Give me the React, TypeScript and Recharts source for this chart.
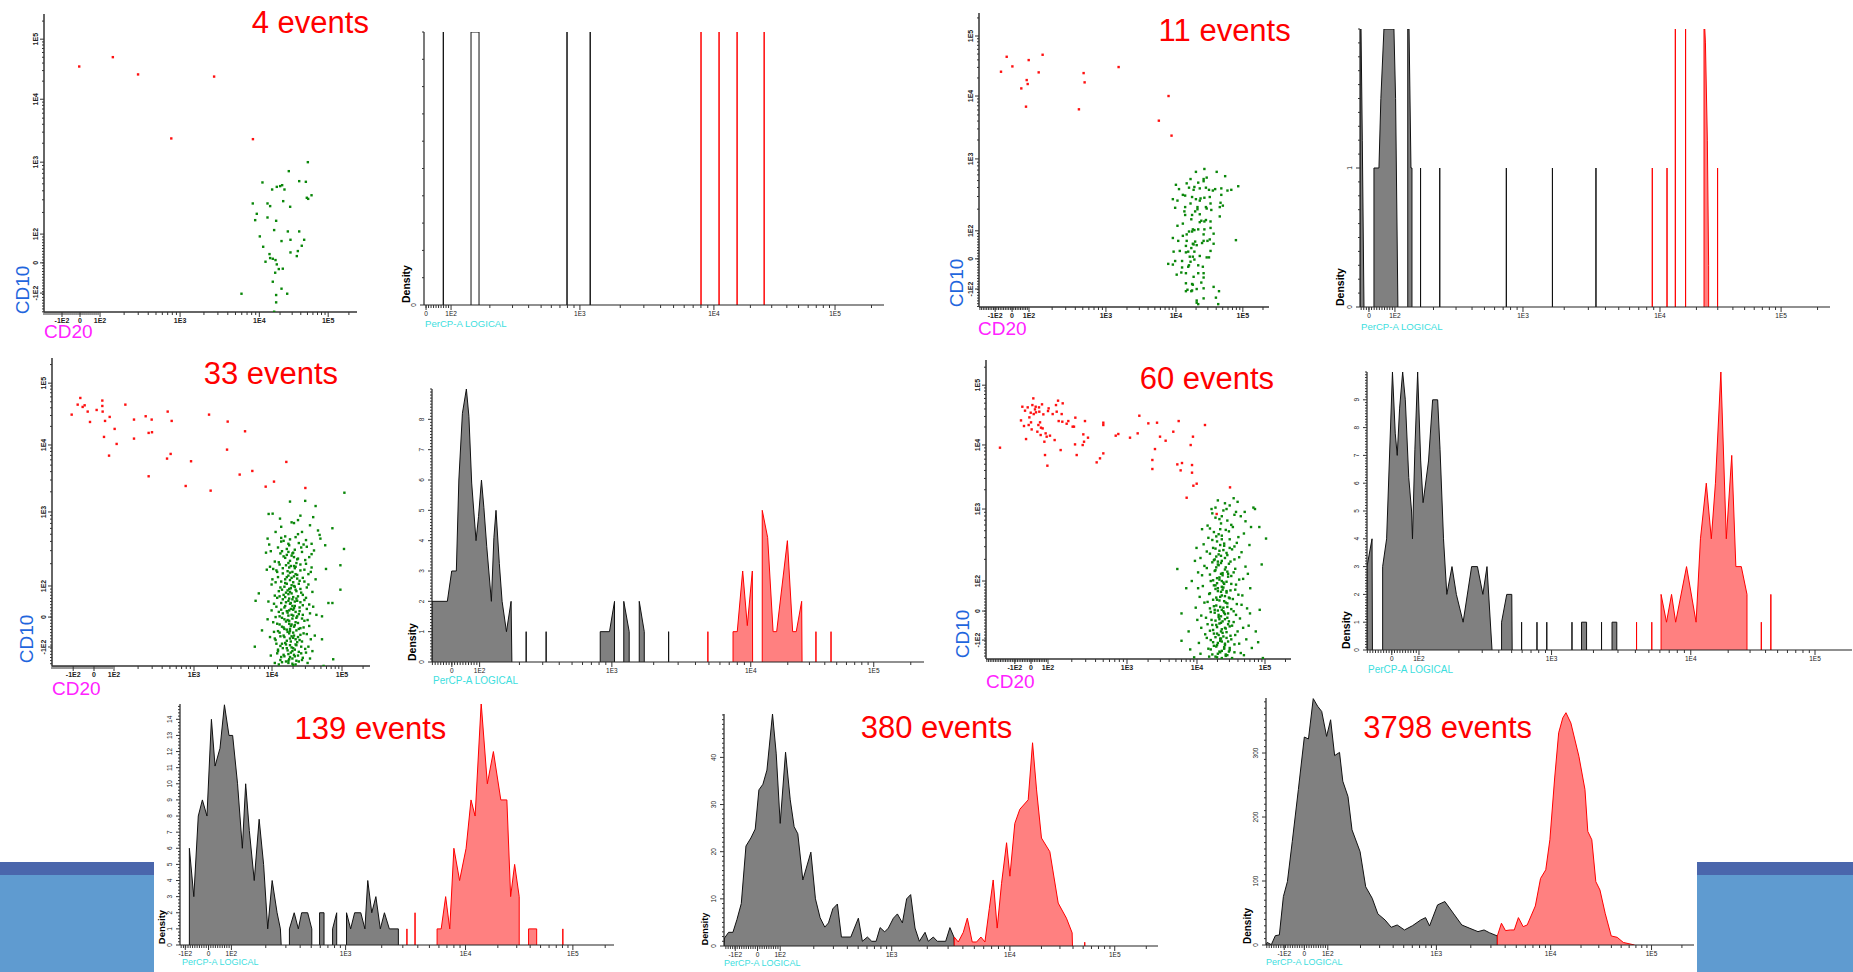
import React from 'react';
import { ComposedChart, Area, ScatterChart, Scatter, XAxis, YAxis } from 'recharts';

type P = [number, number];
type Row = { x: number; y: number | null };

const FONT = '"Liberation Sans", Arial, Helvetica, sans-serif';
const LABELS6 = ['-1E2', '0', '1E2', '1E3', '1E4', '1E5'];
const LABELS5 = ['0', '1E2', '1E3', '1E4', '1E5'];

// axis positions are logicle display units: 1E2 = 2, 1E3 = 3 ...

// ---------------- 4 events ----------------
const scatter4TicksX = [1.525, 1.75, 2, 3, 3.99, 4.85];
const scatter4TicksY = [1.18, 1.6, 2, 3, 3.875, 4.71];
const scatter4Red: P[] = [[1.74, 4.33], [2.16, 4.46], [2.475, 4.22], [3.425, 4.19], [2.89, 3.33], [3.91, 3.32]];
const scatter4Green: P[] = [
  [4.596, 3.0], [4.358, 2.875], [4.029, 2.718], [4.488, 2.736], [4.571, 2.727], [4.15, 2.62], [4.208, 2.657],
  [4.275, 2.68], [4.25, 2.667], [4.304, 2.62], [4.642, 2.54], [4.583, 2.505], [4.6, 2.49], [3.908, 2.426],
  [4.092, 2.426], [4.288, 2.458], [4.125, 2.389], [4.375, 2.38], [3.958, 2.282], [3.938, 2.194], [4.092, 2.231],
  [4.2, 2.185], [4.175, 2.056], [4.346, 2.037], [4.488, 2.037], [3.996, 1.968], [4.267, 1.903], [4.379, 1.921],
  [4.55, 1.921], [4.52, 1.838], [4.038, 1.824], [4.471, 1.764], [4.379, 1.745], [4.458, 1.694], [4.117, 1.722],
  [4.125, 1.667], [4.158, 1.657], [4.192, 1.639], [4.067, 1.616], [4.208, 1.579], [4.233, 1.514], [4.283, 1.519],
  [4.188, 1.463], [4.158, 1.338], [4.267, 1.241], [4.338, 1.171], [3.767, 1.171], [4.2, 1.153], [4.2, 1.051], [4.175, 0.921],
];
const hist4Ticks = [1.806, 2, 3, 4.04, 4.98];
const hist4GrayPolys: P[][] = [[[2.155, 0], [2.155, 1], [2.217, 1], [2.217, 0]]];
const hist4GraySpikes: P[] = [[1.94, 1], [2.9, 1], [3.08, 1]];
const hist4RedPolys: P[][] = [];
const hist4RedSpikes: P[] = [[3.94, 1], [4.08, 1], [4.22, 1], [4.43, 1]];

// ---------------- 11 events ----------------
const scatter11TicksX = [1.56, 1.78, 2, 3, 3.91, 4.78];
const scatter11TicksY = [1.19, 1.61, 2, 3, 3.875, 4.71];
const scatter11Red: P[] = [
  [1.636, 4.213], [1.71, 4.421], [1.784, 4.287], [1.996, 4.375], [2.177, 4.449], [2.126, 4.204], [1.9, 3.981],
  [1.97, 4.097], [1.983, 4.042], [1.961, 3.727], [2.649, 3.69], [2.71, 4.194], [2.723, 4.065], [3.165, 4.278],
  [3.814, 3.875], [3.688, 3.532], [3.853, 3.324],
];
const scatter11Green: P[] = [
  [4.28, 2.86], [4.17, 2.82], [4.55, 2.76], [4.31, 2.74], [4.1, 2.72], [4.05, 2.66], [3.91, 2.64], [4.2, 2.67],
  [4.27, 2.69], [4.15, 2.61], [4.22, 2.59], [3.95, 2.58], [4.08, 2.6], [4.3, 2.6], [4.34, 2.57], [4.42, 2.58],
  [4.5, 2.59], [4.58, 2.56], [4.72, 2.62], [4.63, 2.57], [4.14, 2.57], [4.03, 2.49], [4.12, 2.47], [4.0, 2.5],
  [4.23, 2.45], [4.28, 2.46], [3.93, 2.42], [4.36, 2.38], [4.48, 2.33], [4.52, 2.35], [3.9, 2.32], [4.03, 2.33],
  [4.19, 2.33], [4.19, 2.3], [4.3, 2.33], [4.31, 2.31], [4.02, 2.27], [4.16, 2.27], [4.12, 2.22], [4.22, 2.23],
  [4.37, 2.29], [4.48, 2.2], [4.03, 2.22], [3.93, 2.07], [4.11, 2.16], [4.28, 2.13], [4.22, 2.12], [4.36, 2.13],
  [4.08, 1.99], [4.13, 2.02], [4.15, 2.01], [4.2, 2.02], [4.28, 2.02], [4.36, 2.04], [4.0, 1.93], [4.27, 1.95],
  [4.12, 1.99], [4.05, 1.86], [4.16, 1.85], [4.27, 1.86], [4.35, 1.88], [4.32, 1.86], [4.13, 1.82], [4.04, 1.79],
  [4.18, 1.8], [4.11, 1.76], [4.25, 1.83], [4.4, 1.82], [4.69, 1.87], [3.88, 1.71], [3.96, 1.72], [4.07, 1.71],
  [4.15, 1.71], [4.36, 1.72], [4.13, 1.64], [4.31, 1.63], [4.34, 1.63], [3.9, 1.58], [3.99, 1.58], [4.15, 1.6],
  [4.1, 1.57], [3.81, 1.54], [4.08, 1.52], [4.07, 1.5], [3.99, 1.49], [3.98, 1.42], [3.92, 1.39], [4.04, 1.41],
  [4.2, 1.41], [4.27, 1.41], [4.14, 1.36], [4.04, 1.27], [4.12, 1.26], [4.27, 1.35], [4.13, 1.25], [4.27, 1.2],
  [4.4, 1.22], [4.47, 1.16], [4.12, 1.17], [4.11, 1.16], [4.18, 1.19], [3.87, 1.53], [4.05, 1.95], [4.0, 2.1],
  [4.22, 2.42], [4.1, 2.38], [4.35, 2.47], [4.39, 2.56], [3.87, 2.44], [4.17, 2.44], [4.3, 2.15], [4.22, 1.65],
  [3.94, 1.86], [4.2, 1.52], [4.04, 1.7], [3.87, 1.9], [4.4, 1.96], [4.14, 1.81], [4.09, 1.64], [4.24, 1.28],
  [4.04, 1.16], [4.26, 1.5], [4.49, 2.39], [4.44, 2.82], [4.27, 2.72], [4.5, 2.5], [4.24, 2.14], [4.06, 1.18],
  [4.18, 1.03], [4.18, 1.0], [4.27, 1.06], [4.43, 1.07], [4.46, 0.98], [4.2, 0.98],
];
const hist11Ticks = [1.797, 2, 3, 4.07, 5.016];
const hist11GrayPolys: P[][] = [
  [[1.727, 0], [1.727, 2], [1.735, 2], [1.745, 1.2], [1.758, 0]],
  [[1.836, 0], [1.836, 1], [1.875, 1], [1.89, 1.5], [1.914, 2], [1.992, 2], [2.005, 1.5], [2.023, 0]],
  [[2.1, 0], [2.1, 2], [2.11, 2], [2.125, 1], [2.133, 1], [2.133, 0]],
];
const hist11GraySpikes: P[] = [[2.2, 1], [2.35, 1], [2.87, 1], [3.23, 1], [3.57, 1]];
const hist11RedPolys: P[][] = [[[4.414, 0], [4.414, 2], [4.42, 2], [4.425, 1.9], [4.44, 1.2], [4.45, 0.3], [4.45, 0]]];
const hist11RedSpikes: P[] = [[4.01, 1], [4.125, 1], [4.19, 2], [4.27, 2], [4.52, 1]];

// ---------------- 33 events ----------------
const scatter33TicksX = [1.49, 1.75, 2, 3, 3.975, 4.85];
const scatter33TicksY = [1.176, 1.58, 2, 3, 3.905, 4.74];
const scatter33Red: P[] = [
  [1.471, 4.315], [1.546, 4.45], [1.579, 4.54], [1.608, 4.419], [1.633, 4.441], [1.671, 4.356], [1.7, 4.216],
  [1.783, 4.378], [1.854, 4.505], [1.854, 4.432], [1.858, 4.356], [1.875, 4.014], [1.888, 4.23], [1.938, 3.761],
  [1.946, 4.284], [2.008, 4.122], [2.033, 3.919], [2.142, 4.45], [2.25, 4.248], [2.25, 3.991], [2.396, 4.293],
  [2.433, 4.068], [2.433, 3.482], [2.471, 4.248], [2.475, 4.077], [2.671, 4.356], [2.663, 3.721], [2.708, 3.784],
  [2.721, 4.23], [2.896, 3.351], [2.963, 3.685], [3.188, 4.315], [3.208, 3.288], [3.413, 3.842], [3.421, 4.221],
  [3.571, 3.505], [3.638, 4.09], [3.729, 3.554], [3.896, 3.342], [4.0, 3.41], [4.154, 3.676], [4.392, 3.324],
];
const scatter33Green: P[] = [
  [3.933, 2.973], [3.983, 2.977], [4.2, 3.14], [4.39, 3.15], [4.52, 3.08], [4.33, 2.95], [4.22, 2.86], [4.25, 2.85],
  [4.49, 2.93], [4.3, 2.89], [4.35, 2.73], [4.45, 2.82], [4.55, 2.75], [4.88, 3.26], [4.73, 2.78], [4.875, 2.5],
  [4.64, 2.55], [4.57, 2.69], [4.58, 2.64], [4.65, 2.23], [4.83, 2.28], [4.83, 1.95], [4.68, 1.77], [4.73, 1.77],
  [4.6, 1.59], [4.6, 1.28], [4.53, 1.61], [4.74, 1.01], [4.62, 0.92], [3.77, 1.8], [3.76, 1.18], [3.81, 1.9],
  [3.85, 1.4], [3.9, 2.45], [3.91, 2.22], [3.92, 2.64], [4.075, 2.91], [4.09, 2.8], [4.02, 2.73],
  [4.12, 2.61], [4.31, 2.58], [4.05, 2.52], [4.19, 2.55], [4.26, 2.49], [4.41, 2.53], [4.08, 2.44], [4.35, 2.46],
  [4.22, 2.41], [4.14, 2.38], [4.29, 2.36], [4.44, 2.39], [4.01, 2.33], [4.18, 2.31], [4.33, 2.29], [4.25, 2.27],
  [4.11, 2.24], [4.38, 2.22], [4.47, 2.25], [4.04, 2.19], [4.2, 2.18], [4.29, 2.15], [4.16, 2.12], [4.36, 2.11],
  [3.98, 2.09], [4.09, 2.06], [4.24, 2.05], [4.31, 2.03], [4.43, 2.02], [4.13, 1.99], [4.21, 1.97], [4.27, 1.95],
  [4.06, 1.93], [4.34, 1.91], [4.18, 1.89], [4.01, 1.87], [4.24, 1.85], [4.4, 1.84], [4.11, 1.82], [4.29, 1.8],
  [4.15, 1.78], [4.2, 1.76], [4.36, 1.74], [4.03, 1.72], [4.25, 1.7], [4.09, 1.68], [4.32, 1.66], [4.17, 1.64],
  [4.45, 1.63], [4.22, 1.61], [4.07, 1.59], [4.28, 1.57], [4.13, 1.55], [4.38, 1.53], [3.99, 1.51], [4.19, 1.49],
  [4.26, 1.47], [4.1, 1.45], [4.33, 1.43], [4.16, 1.41], [4.05, 1.39], [4.24, 1.37], [4.41, 1.35], [4.12, 1.33],
  [4.3, 1.31], [4.2, 1.29], [4.02, 1.27], [4.35, 1.25], [4.14, 1.23], [4.27, 1.21], [4.08, 1.19], [4.22, 1.17],
  [4.39, 1.15], [4.17, 1.13], [4.31, 1.11], [4.04, 1.09], [4.25, 1.07], [4.13, 1.05], [4.36, 1.03], [4.19, 1.01],
  [4.28, 0.99], [4.1, 0.97], [4.23, 0.95], [4.42, 0.96], [4.06, 0.94],
  [4.27, 2.66], [4.09, 2.6], [4.37, 2.56], [4.16, 2.5], [3.96, 2.47], [4.24, 2.45], [4.47, 2.43], [4.12, 2.4],
  [4.3, 2.37], [4.2, 2.34], [4.06, 2.32], [4.4, 2.3], [4.15, 2.28], [4.27, 2.26], [3.99, 2.23], [4.33, 2.21],
  [4.23, 2.19], [4.11, 2.17], [4.43, 2.16], [4.18, 2.14], [4.05, 2.12], [4.29, 2.1], [4.2, 2.08], [4.38, 2.06],
  [4.14, 2.04], [3.97, 2.02], [4.25, 2.0], [4.08, 1.98], [4.33, 1.96], [4.17, 1.94], [4.48, 1.92], [4.22, 1.9],
  [4.12, 1.88], [4.3, 1.86], [4.04, 1.84], [4.19, 1.83], [4.38, 1.81], [4.26, 1.79], [4.09, 1.77], [4.44, 1.75],
  [4.14, 1.73], [4.32, 1.71], [4.21, 1.69], [3.97, 1.67], [4.27, 1.65], [4.11, 1.63], [4.36, 1.61], [4.18, 1.6],
  [4.02, 1.58], [4.23, 1.56], [4.42, 1.54], [4.15, 1.52], [4.3, 1.5], [4.07, 1.48], [4.21, 1.46], [4.37, 1.44],
  [4.13, 1.42], [4.28, 1.4], [4.0, 1.38], [4.19, 1.36], [4.33, 1.34], [4.08, 1.32], [4.24, 1.3], [4.46, 1.28],
  [4.16, 1.26], [4.29, 1.24], [4.03, 1.22], [4.2, 1.2], [4.34, 1.18], [4.11, 1.16], [4.26, 1.14], [4.05, 1.12],
  [4.4, 1.1], [4.18, 1.08], [4.3, 1.06], [4.09, 1.04], [4.23, 1.02], [4.35, 1.0], [4.15, 0.98], [4.01, 0.96], [4.27, 0.94],
  [4.2, 2.63], [4.34, 2.52], [3.94, 2.56], [4.1, 2.47], [4.23, 2.44], [4.16, 2.42], [4.39, 2.35], [4.07, 2.29],
  [4.28, 2.31], [4.19, 2.25], [4.03, 2.21], [4.46, 2.19], [4.25, 2.13], [4.14, 2.09], [4.32, 2.07], [4.02, 2.05],
  [4.22, 2.01], [4.41, 1.98], [4.1, 1.95], [4.28, 1.93], [4.15, 1.91], [4.36, 1.88], [4.07, 1.86], [4.23, 1.82],
  [4.18, 1.8], [4.33, 1.78], [4.0, 1.76], [4.26, 1.73], [4.13, 1.71], [4.41, 1.69], [4.19, 1.67], [4.06, 1.65],
  [4.31, 1.62], [4.24, 1.6], [4.1, 1.57], [4.35, 1.56], [4.17, 1.54], [4.27, 1.51], [4.04, 1.49], [4.22, 1.48],
  [4.44, 1.46], [4.12, 1.44], [4.31, 1.42], [4.2, 1.39], [4.07, 1.37], [4.37, 1.36], [4.25, 1.33], [4.13, 1.31],
  [4.01, 1.29], [4.32, 1.27], [4.21, 1.25], [4.1, 1.22], [4.28, 1.2], [4.43, 1.18], [4.16, 1.16], [4.05, 1.14],
  [4.23, 1.12], [4.34, 1.09], [4.12, 1.07], [4.2, 1.04], [4.45, 1.02], [4.08, 1.0], [4.31, 0.98], [4.18, 0.96], [4.24, 0.93],
  [4.18, 2.57], [4.25, 2.39], [4.21, 2.27], [4.17, 2.2], [4.27, 2.16], [4.22, 2.11], [4.16, 2.03], [4.26, 1.99],
  [4.2, 1.92], [4.14, 1.85], [4.28, 1.83], [4.21, 1.77], [4.24, 1.68], [4.16, 1.66], [4.29, 1.59], [4.19, 1.53],
  [4.25, 1.45], [4.17, 1.38], [4.22, 1.32], [4.27, 1.28], [4.15, 1.21], [4.21, 1.1], [4.26, 1.05], [4.18, 0.99],
  [4.24, 1.16], [4.2, 1.42], [4.23, 1.73], [4.19, 1.96], [4.26, 2.24], [4.18, 2.46], [4.14, 2.67], [4.3, 2.7],
  [4.09, 2.65], [4.4, 2.62], [4.47, 2.57], [4.5, 2.48], [4.52, 2.09], [4.49, 1.72], [4.51, 1.33], [4.48, 1.12],
  [3.95, 1.31], [3.93, 1.79], [3.95, 2.26], [3.92, 1.55], [3.96, 1.06],
];
const hist33Ticks = [1.79, 2, 3, 4.05, 4.98];
const hist33GrayPolys: P[][] = [
  [[1.64, 0], [1.64, 2], [1.756, 2], [1.789, 3], [1.824, 3], [1.843, 6], [1.87, 8.2], [1.9, 9], [1.919, 8.1],
    [1.94, 5.9], [1.973, 4], [1.992, 4.8], [2.014, 6], [2.032, 5.1], [2.054, 3.8], [2.089, 2], [2.108, 4.1],
    [2.124, 5], [2.149, 3.25], [2.17, 2], [2.203, 1], [2.238, 2], [2.244, 0]],
  [[2.912, 0], [2.912, 1], [2.982, 1], [3.02, 2], [3.02, 0]],
  [[3.09, 0], [3.09, 2], [3.131, 1], [3.131, 0]],
  [[3.207, 0], [3.207, 2], [3.245, 1], [3.245, 0]],
];
const hist33GraySpikes: P[] = [[2.352, 1], [2.503, 1], [3.429, 1]];
const hist33RedPolys: P[][] = [
  [[3.916, 0], [3.916, 1], [3.948, 1], [3.989, 3], [4.024, 1.2], [4.062, 3], [4.064, 0]],
  [[4.137, 0], [4.137, 5], [4.178, 4.1], [4.219, 1], [4.246, 1], [4.327, 4], [4.367, 1], [4.394, 1], [4.435, 2], [4.438, 0]],
];
const hist33RedSpikes: P[] = [[3.726, 1], [4.543, 1], [4.657, 1]];

// ---------------- 60 events ----------------
const scatter60TicksX = [1.58, 1.785, 2, 3, 3.886, 4.747];
const scatter60TicksY = [1.18, 1.583, 2, 3, 3.89, 4.72];
const scatter60Red: P[] = [
  [1.392, 3.852], [1.658, 4.231], [1.675, 4.421], [1.696, 4.153], [1.709, 4.366], [1.722, 3.972], [1.743, 4.412],
  [1.755, 4.167], [1.764, 4.273], [1.781, 4.338], [1.785, 4.204], [1.793, 4.106], [1.802, 4.444], [1.814, 4.537],
  [1.819, 4.319], [1.835, 4.384], [1.844, 4.421], [1.848, 4.343], [1.865, 4.074], [1.878, 4.167], [1.886, 4.412],
  [1.89, 4.352], [1.899, 4.204], [1.907, 4.028], [1.911, 4.13], [1.924, 4.454], [1.932, 4.12], [1.941, 4.315],
  [1.954, 3.935], [1.962, 3.75], [1.97, 4.051], [1.983, 4.005], [1.992, 3.602], [2.0, 4.361], [2.008, 4.398],
  [2.025, 4.019], [2.059, 4.319], [2.084, 3.958], [2.101, 4.444], [2.11, 4.352], [2.127, 4.505], [2.135, 4.222],
  [2.16, 3.819], [2.173, 4.319], [2.181, 4.213], [2.186, 4.468], [2.236, 4.185], [2.257, 4.222], [2.312, 4.144],
  [2.329, 4.144], [2.342, 3.898], [2.346, 4.269], [2.363, 3.75], [2.439, 3.889], [2.447, 4.037], [2.456, 3.935],
  [2.468, 4.222], [2.506, 3.991], [2.616, 3.648], [2.658, 3.704], [2.7, 3.773], [2.7, 4.199], [2.7, 4.167],
  [2.857, 4.019], [2.89, 4.042], [3.038, 3.991], [3.135, 4.051], [3.156, 4.296], [3.27, 4.19], [3.321, 3.681],
  [3.321, 3.556], [3.354, 3.833], [3.38, 4.199], [3.418, 4.005], [3.489, 3.949], [3.586, 4.074], [3.637, 3.62],
  [3.654, 4.222], [3.679, 3.537], [3.696, 3.639], [3.755, 3.157], [3.806, 3.889], [3.823, 3.611], [3.823, 3.505],
  [3.835, 4.005], [3.84, 3.324], [3.882, 3.352], [3.987, 4.167], [4.135, 2.931], [4.304, 3.301],
];
const scatter60Green: P[] = [
  [4.15, 3.12], [4.3, 3.05], [4.22, 2.98], [4.08, 2.94], [4.38, 2.96], [4.44, 2.9], [4.12, 2.88], [4.27, 2.84],
  [4.19, 2.8], [4.02, 2.77], [4.34, 2.75], [4.25, 2.71], [4.1, 2.68], [4.48, 2.66], [4.2, 2.63], [4.03, 2.6],
  [4.3, 2.58], [4.14, 2.55], [4.39, 2.53], [3.97, 2.51], [4.23, 2.49], [4.09, 2.46], [4.33, 2.44], [4.17, 2.42],
  [4.45, 2.4], [4.05, 2.38], [4.27, 2.36], [4.13, 2.34], [3.93, 2.32], [4.36, 2.3], [4.2, 2.28], [4.08, 2.26],
  [4.29, 2.24], [4.16, 2.22], [4.5, 2.2], [4.01, 2.18], [4.24, 2.16], [4.11, 2.14], [4.35, 2.12], [4.19, 2.1],
  [3.95, 2.08], [4.28, 2.06], [4.14, 2.04], [4.42, 2.02], [4.06, 2.0], [4.22, 1.98], [4.32, 1.96], [4.1, 1.94],
  [4.2, 1.92], [3.9, 1.9], [4.37, 1.88], [4.15, 1.86], [4.26, 1.84], [4.04, 1.82], [4.46, 1.8], [4.18, 1.78],
  [4.3, 1.76], [4.09, 1.74], [4.23, 1.72], [3.98, 1.7], [4.39, 1.68], [4.13, 1.66], [4.27, 1.64], [4.05, 1.62],
  [4.2, 1.6], [4.35, 1.58], [4.11, 1.56], [4.24, 1.54], [3.94, 1.52], [4.16, 1.5], [4.43, 1.48], [4.07, 1.46],
  [4.29, 1.44], [4.19, 1.42], [4.02, 1.4], [4.33, 1.38], [4.14, 1.36], [4.25, 1.34], [4.09, 1.32], [4.4, 1.3],
  [4.21, 1.28], [3.99, 1.26], [4.31, 1.24], [4.12, 1.22], [4.18, 1.2], [4.06, 1.18], [4.28, 1.16], [4.15, 1.14],
  [4.36, 1.12], [4.1, 1.1], [4.23, 1.08], [4.03, 1.06], [4.3, 1.04], [4.17, 1.02], [4.44, 1.0], [4.08, 0.98],
  [4.25, 0.96], [4.14, 0.94], [4.2, 0.93],
  [4.24, 3.08], [4.07, 3.0], [4.36, 2.92], [4.17, 2.86], [4.5, 2.83], [4.05, 2.73], [4.29, 2.69], [4.16, 2.65],
  [4.41, 2.61], [4.08, 2.57], [4.23, 2.52], [4.36, 2.48], [4.12, 2.45], [4.01, 2.41], [4.26, 2.39], [4.19, 2.35],
  [4.42, 2.33], [4.1, 2.29], [4.31, 2.27], [4.15, 2.23], [3.98, 2.21], [4.25, 2.19], [4.37, 2.17], [4.12, 2.15],
  [4.21, 2.11], [4.05, 2.09], [4.32, 2.07], [4.17, 2.05], [4.47, 2.03], [4.09, 2.01], [4.26, 1.99], [4.14, 1.97],
  [4.38, 1.95], [3.96, 1.93], [4.22, 1.91], [4.12, 1.89], [4.31, 1.87], [4.19, 1.85], [4.05, 1.83], [4.41, 1.81],
  [4.24, 1.79], [4.13, 1.77], [4.34, 1.75], [4.17, 1.73], [4.02, 1.71], [4.27, 1.69], [4.45, 1.67], [4.1, 1.65],
  [4.22, 1.63], [4.32, 1.61], [4.15, 1.59], [4.06, 1.57], [4.28, 1.55], [4.38, 1.53], [4.19, 1.51], [4.0, 1.49],
  [4.24, 1.47], [4.12, 1.45], [4.35, 1.43], [4.17, 1.41], [4.08, 1.39], [4.3, 1.37], [4.47, 1.35], [4.2, 1.33],
  [4.05, 1.31], [4.26, 1.29], [4.14, 1.27], [4.37, 1.25], [4.22, 1.23], [4.01, 1.21], [4.32, 1.19], [4.18, 1.17],
  [4.09, 1.15], [4.42, 1.13], [4.24, 1.11], [4.13, 1.09], [4.3, 1.07], [4.06, 1.05], [4.2, 1.03], [4.36, 1.01],
  [4.15, 0.99], [4.27, 0.97], [4.04, 0.95], [4.33, 0.93],
  [4.2, 2.58], [4.18, 2.5], [4.22, 2.43], [4.16, 2.37], [4.24, 2.32], [4.19, 2.25], [4.13, 2.19], [4.27, 2.13],
  [4.21, 2.08], [4.17, 2.02], [4.23, 1.96], [4.15, 1.9], [4.26, 1.86], [4.2, 1.8], [4.14, 1.74], [4.25, 1.7],
  [4.18, 1.64], [4.22, 1.58], [4.16, 1.53], [4.27, 1.49], [4.21, 1.44], [4.13, 1.39], [4.24, 1.35], [4.19, 1.3],
  [4.16, 1.25], [4.26, 1.21], [4.2, 1.16], [4.14, 1.11], [4.23, 1.06], [4.18, 1.01], [4.25, 0.98], [4.12, 0.95],
  [4.29, 1.02], [4.1, 1.27], [4.28, 1.4], [4.11, 1.6], [4.29, 1.77], [4.12, 1.94], [4.28, 2.1], [4.11, 2.3],
  [4.3, 2.46], [4.13, 2.62], [4.32, 2.78], [4.2, 2.9], [4.26, 3.0], [4.35, 3.15], [4.4, 3.1], [4.12, 3.02],
  [4.18, 2.72], [4.21, 1.88], [4.17, 1.47], [4.24, 1.13], [4.15, 2.27], [4.2, 2.0], [4.23, 1.56], [4.19, 1.2],
  [3.88, 2.46], [3.9, 2.12], [3.92, 1.78], [3.89, 1.46], [3.91, 1.14], [3.86, 2.28], [3.95, 2.72], [3.87, 1.63],
  [3.94, 1.35], [3.93, 0.99], [4.55, 2.5], [4.53, 2.1], [4.56, 1.9], [4.52, 1.62], [4.54, 1.38], [4.51, 1.19],
  [4.57, 2.75], [4.49, 2.96], [4.58, 1.07], [4.48, 0.97],
  [4.705, 2.23], [4.76, 2.59], [4.675, 2.75], [4.62, 3.0], [4.557, 1.55], [4.68, 1.6], [3.637, 2.167], [3.75, 1.9],
  [3.69, 1.55], [3.69, 1.17], [4.6, 3.02], [4.66, 1.15], [4.63, 1.3], [3.8, 1.05], [3.82, 2.0], [3.78, 1.3],
  [4.72, 0.93], [3.85, 0.94],
];
const hist60Ticks = [1.795, 2, 3, 4.05, 4.987];
const hist60GrayPolys: P[][] = [
  [[1.608, 0], [1.608, 3], [1.646, 4], [1.649, 0]],
  [[1.726, 0], [1.726, 3], [1.756, 4], [1.8, 10], [1.821, 7.8], [1.836, 7], [1.854, 8.7], [1.877, 10], [1.897, 9],
    [1.923, 6.2], [1.944, 5], [1.951, 4], [1.969, 7.2], [1.99, 10], [2.013, 6.8], [2.031, 5.3], [2.072, 6.8],
    [2.103, 9], [2.141, 9], [2.159, 7.2], [2.185, 4], [2.21, 2], [2.249, 3], [2.282, 2], [2.333, 1], [2.397, 3],
    [2.441, 3], [2.482, 2], [2.513, 3], [2.551, 0]],
  [[2.623, 0], [2.623, 1], [2.662, 2], [2.7, 2], [2.703, 0]],
  [[3.226, 0], [3.226, 1], [3.264, 1], [3.264, 0]],
  [[3.456, 0], [3.456, 1], [3.492, 1], [3.492, 0]],
];
const hist60GraySpikes: P[] = [[2.774, 1], [2.89, 1], [2.964, 1], [3.154, 1], [3.377, 1]];
const hist60RedPolys: P[][] = [
  [[3.826, 0], [3.826, 2], [3.867, 1], [3.905, 2], [3.936, 1], [4.018, 3], [4.09, 1], [4.123, 4], [4.167, 6],
    [4.205, 4], [4.236, 6], [4.277, 10], [4.318, 4], [4.359, 7], [4.39, 3], [4.431, 3], [4.474, 2], [4.474, 0]],
];
const hist60RedSpikes: P[] = [[3.641, 1], [3.756, 1], [4.582, 1], [4.654, 2]];

// ---------------- 139 events ----------------
const hist139Ticks = [1.596, 1.8, 2, 3, 4.05, 4.99];
const hist139GrayPolys: P[][] = [
  [[1.632, 0], [1.632, 6], [1.671, 3], [1.71, 8], [1.746, 9], [1.786, 8], [1.825, 14], [1.857, 11.1], [1.9, 12.2],
    [1.939, 14.9], [1.979, 13], [2.011, 13], [2.054, 10], [2.096, 6], [2.125, 10], [2.157, 7.1], [2.2, 4],
    [2.243, 7.8], [2.282, 5], [2.318, 1], [2.357, 4], [2.4, 2], [2.429, 1], [2.436, 0]],
  [[2.508, 0], [2.508, 1], [2.55, 2], [2.586, 1], [2.615, 2], [2.668, 2], [2.704, 1], [2.704, 0]],
  [[2.772, 0], [2.772, 2], [2.811, 2], [2.811, 0]],
  [[2.886, 0], [2.886, 1], [2.922, 2], [2.922, 0]],
  [[3.008, 0], [3.008, 2], [3.044, 1], [3.079, 2], [3.133, 2], [3.169, 1], [3.194, 4], [3.229, 2], [3.265, 3],
    [3.304, 1], [3.34, 2], [3.383, 1], [3.462, 1], [3.462, 0]],
];
const hist139GraySpikes: P[] = [];
const hist139RedPolys: P[][] = [
  [[3.801, 0], [3.801, 1], [3.837, 1], [3.876, 3], [3.912, 1], [3.948, 6], [3.998, 4], [4.055, 6], [4.098, 9],
    [4.134, 8], [4.187, 15], [4.241, 10], [4.294, 12], [4.359, 9], [4.412, 9], [4.445, 3], [4.48, 5], [4.52, 3], [4.52, 0]],
  [[4.602, 0], [4.602, 1], [4.673, 1], [4.673, 0]],
];
const hist139RedSpikes: P[] = [[3.537, 1], [3.608, 2], [4.902, 1]];

// ---------------- 380 events ----------------
const hist380Ticks = [1.597, 1.797, 2, 3, 4.06, 5.0];
const hist380GrayPolys: P[][] = [
  [[1.496, 0], [1.501, 1.7], [1.537, 2.9], [1.576, 2.9], [1.612, 5.6], [1.651, 9], [1.693, 21.2], [1.737, 22.9],
    [1.776, 24.8], [1.809, 33.1], [1.845, 34.3], [1.881, 37.3], [1.931, 49.2], [1.964, 40.9], [2.0, 26],
    [2.048, 41.1], [2.09, 31], [2.125, 25.3], [2.158, 23.8], [2.203, 14], [2.275, 19.9], [2.316, 10], [2.358, 6],
    [2.4, 4], [2.433, 4.9], [2.472, 7.9], [2.513, 8.9], [2.549, 1.9], [2.633, 1.9], [2.701, 5.9], [2.737, 1],
    [2.782, 1.9], [2.821, 1], [2.86, 1], [2.896, 3.9], [2.937, 3], [2.97, 3.8], [3.015, 5.9], [3.051, 6.8],
    [3.096, 4.9], [3.134, 10], [3.17, 10.9], [3.209, 3.8], [3.248, 1], [3.299, 2.9], [3.328, 1], [3.373, 1.9],
    [3.409, 1], [3.484, 1], [3.522, 3.9], [3.558, 1.9], [3.561, 0]],
];
const hist380GraySpikes: P[] = [];
const hist380RedPolys: P[][] = [
  [[3.561, 0], [3.561, 1.9], [3.597, 0.85], [3.642, 2.9], [3.678, 5.9], [3.722, 0.85], [3.761, 0.85], [3.8, 1.9],
    [3.836, 0.85], [3.875, 7.9], [3.91, 14], [3.946, 3.8], [3.985, 13.3], [4.03, 21.9], [4.06, 14.8], [4.104, 26],
    [4.149, 29], [4.224, 31], [4.263, 43.1], [4.299, 33.1], [4.343, 22.9], [4.418, 20], [4.493, 9.1], [4.567, 5.9],
    [4.618, 2.8], [4.621, 0]],
];
const hist380RedSpikes: P[] = [[4.731, 0.8]];

// ---------------- 3798 events ----------------
const hist3798Ticks = [1.599, 1.784, 2, 3, 4.052, 4.981];
const hist3798GrayPolys: P[][] = [
  [[1.431, 0], [1.442, 4], [1.48, 0.5], [1.517, 14.6], [1.554, 15.7], [1.591, 75.7], [1.628, 99], [1.673, 162],
    [1.729, 243], [1.784, 325], [1.822, 322], [1.866, 385], [1.907, 373], [1.944, 365], [1.989, 326], [2.026, 352],
    [2.063, 296], [2.108, 301], [2.138, 256], [2.186, 232], [2.223, 180], [2.297, 146], [2.349, 91], [2.409, 73],
    [2.461, 48.6], [2.528, 39], [2.584, 27.7], [2.639, 31.3], [2.706, 23.5], [2.781, 30.3], [2.855, 39], [2.9, 42.8],
    [2.937, 29.8], [3.011, 62.7], [3.078, 67.9], [3.16, 48.6], [3.234, 31.3], [3.309, 26], [3.383, 20.9],
    [3.439, 23.5], [3.487, 19.3], [3.561, 14.1], [3.561, 0]],
];
const hist3798GraySpikes: P[] = [];
const hist3798RedPolys: P[][] = [
  [[3.561, 0], [3.561, 14.1], [3.599, 34], [3.636, 22.5], [3.68, 23.5], [3.717, 23.5], [3.755, 42.8], [3.799, 28.7],
    [3.836, 31.3], [3.911, 61], [3.959, 104], [4.007, 117.5], [4.045, 164.5], [4.089, 261], [4.126, 331.6],
    [4.164, 355], [4.193, 363], [4.238, 347], [4.312, 295], [4.368, 243], [4.394, 177.5], [4.431, 164.5],
    [4.468, 99], [4.506, 86], [4.554, 49.6], [4.61, 14.1], [4.665, 12], [4.721, 4], [4.825, 0]],
];
const hist3798RedSpikes: P[] = [];

// ---------------- helpers ----------------
function toSeries(polys: P[][], spikes: P[]): Row[] {
  const out: Row[] = [];
  const push = (pts: P[]) => {
    pts.forEach(([x, y]) => out.push({ x, y }));
    out.push({ x: pts[pts.length - 1][0], y: null });
  };
  polys.forEach(push);
  spikes.forEach(([x, h]) => push([[x, 0], [x, h], [x, 0]]));
  return out;
}

const toXY = (pts: P[]) => pts.map(([x, y]) => ({ x, y }));

function logTicks(majors: number[], labels: string[], lo: number, hi: number) {
  const out = [...majors];
  const i2 = labels.indexOf('1E2');
  const i0 = labels.indexOf('0');
  for (let i = i2; i < majors.length; i++) {
    const w = i + 1 < majors.length ? majors[i + 1] - majors[i] : majors[i] - majors[i - 1];
    for (let k = 2; k <= 9; k++) out.push(majors[i] + w * Math.log10(k));
  }
  const step = (majors[i2] - majors[i0]) / 10;
  for (let p = majors[i2] - step; p > lo; p -= step) out.push(p);
  return out.filter((p) => p >= lo && p <= hi).sort((a, b) => a - b);
}

function makeXTick(majors: number[], labels: string[], size: number, bold: boolean, dy: number) {
  return (props: any) => {
    const { x, y, payload } = props;
    const i = majors.indexOf(payload.value);
    return (
      <g>
        <line x1={x} x2={x} y1={y} y2={y + (i >= 0 ? 5 : 3)} stroke="#333" strokeWidth={1} />
        {i >= 0 && (
          <text x={x} y={y + dy} textAnchor="middle" fontSize={size} fontWeight={bold ? 'bold' : 'normal'} fill="#222" fontFamily={FONT}>
            {labels[i]}
          </text>
        )}
      </g>
    );
  };
}

function makeYTick(isMajor: (v: number) => string | null, size: number, bold: boolean, off: number) {
  return (props: any) => {
    const { x, y, payload } = props;
    const label = isMajor(payload.value);
    const tx = x - off;
    return (
      <g>
        <line x1={x - (label !== null ? 4 : 2)} x2={x} y1={y} y2={y} stroke="#333" strokeWidth={1} />
        {label !== null && (
          <text x={tx} y={y} transform={`rotate(-90 ${tx} ${y})`} textAnchor="middle" fontSize={size} fontWeight={bold ? 'bold' : 'normal'} fill="#222" fontFamily={FONT}>
            {label}
          </text>
        )}
      </g>
    );
  };
}

// the axes get 1px of room, so the margins are one less than the padding round the plot
const PAD = { top: 4, right: 6, bottom: 20, left: 30 };
const MARGIN = { top: 4, right: 6, bottom: 19, left: 29 };

type Frame = [number, number, number, number];

function ScatterPanel(props: {
  frame: Frame; xDomain: [number, number]; yDomain: [number, number];
  xTicks: number[]; yTicks: number[]; red: P[]; green: P[];
}) {
  const [l, t, r, b] = props.frame;
  const xAll = logTicks(props.xTicks, LABELS6, props.xDomain[0], props.xDomain[1]);
  const yAll = logTicks(props.yTicks, LABELS6, props.yDomain[0], props.yDomain[1]);
  const yMajor = (v: number) => {
    const i = props.yTicks.indexOf(v);
    return i >= 0 ? LABELS6[i] : null;
  };
  const dot = (color: string) => (p: any) =>
    p.cx == null ? <g /> : <rect x={p.cx - 1.2} y={p.cy - 1.2} width={2.4} height={2.4} fill={color} />;
  return (
    <div style={{ position: 'absolute', left: l - PAD.left, top: t - PAD.top }}>
      <ScatterChart width={r - l + PAD.left + PAD.right} height={b - t + PAD.top + PAD.bottom} margin={MARGIN}>
        <XAxis type="number" dataKey="x" domain={props.xDomain} allowDataOverflow ticks={xAll} interval={0}
          height={1} tickSize={0} tickMargin={0} tickLine={false} axisLine={{ stroke: '#333', strokeWidth: 1.5 }}
          tick={makeXTick(props.xTicks, LABELS6, 7, true, 11)} />
        <YAxis type="number" dataKey="y" domain={props.yDomain} allowDataOverflow ticks={yAll} interval={0}
          width={1} tickSize={0} tickMargin={0} tickLine={false} axisLine={{ stroke: '#333', strokeWidth: 1.5 }}
          tick={makeYTick(yMajor, 7, true, 6)} />
        <Scatter data={toXY(props.red)} isAnimationActive={false} shape={dot('#ff1010')} />
        <Scatter data={toXY(props.green)} isAnimationActive={false} shape={dot('#0a870a')} />
      </ScatterChart>
    </div>
  );
}

function HistPanel(props: {
  frame: Frame; xDomain: [number, number]; xTicks: number[]; xLabels: string[];
  yMax: number; yMinor: number; yLabels: number[];
  gray: Row[]; red: Row[]; grayFill?: string;
}) {
  const [l, t, r, b] = props.frame;
  const xAll = logTicks(props.xTicks, props.xLabels, props.xDomain[0], props.xDomain[1]);
  const yAll: number[] = [];
  for (let k = 0; k * props.yMinor <= props.yMax + 1e-9; k++) yAll.push(Math.round(k * props.yMinor * 1000) / 1000);
  const yMajor = (v: number) => (props.yLabels.indexOf(v) >= 0 ? String(v) : null);
  return (
    <div style={{ position: 'absolute', left: l - PAD.left, top: t - PAD.top }}>
      <ComposedChart width={r - l + PAD.left + PAD.right} height={b - t + PAD.top + PAD.bottom} margin={MARGIN}>
        <XAxis type="number" dataKey="x" domain={props.xDomain} allowDataOverflow ticks={xAll} interval={0}
          height={1} tickSize={0} tickMargin={0} tickLine={false} axisLine={{ stroke: '#222', strokeWidth: 1.2 }}
          tick={makeXTick(props.xTicks, props.xLabels, 6.5, false, 11)} />
        <YAxis type="number" domain={[0, props.yMax]} allowDataOverflow ticks={yAll} interval={0}
          width={1} tickSize={0} tickMargin={0} tickLine={false} axisLine={{ stroke: '#222', strokeWidth: 1.2 }}
          tick={makeYTick(yMajor, 6.5, false, 8)} />
        <Area data={props.gray} dataKey="y" type="linear" isAnimationActive={false} stroke="#111" strokeWidth={1}
          fill={props.grayFill ?? '#808080'} fillOpacity={1} dot={false} activeDot={false} />
        <Area data={props.red} dataKey="y" type="linear" isAnimationActive={false} stroke="#ff0000" strokeWidth={1}
          fill="#ff8080" fillOpacity={1} dot={false} activeDot={false} />
      </ComposedChart>
    </div>
  );
}

function Title({ x, y, text }: { x: number; y: number; text: string }) {
  return (
    <div style={{ position: 'absolute', left: x, top: y, fontSize: 31, lineHeight: 1, color: '#ff0000', fontFamily: FONT, whiteSpace: 'nowrap' }}>
      {text}
    </div>
  );
}

function Text({ x, y, size, color, text, bold }: { x: number; y: number; size: number; color: string; text: string; bold?: boolean }) {
  return (
    <div style={{ position: 'absolute', left: x, top: y, fontSize: size, lineHeight: 1, color, fontFamily: FONT, whiteSpace: 'nowrap', fontWeight: bold ? 'bold' : 'normal' }}>
      {text}
    </div>
  );
}

function VText({ cx, cy, size, color, text, bold }: { cx: number; cy: number; size: number; color: string; text: string; bold?: boolean }) {
  return (
    <div style={{ position: 'absolute', left: cx, top: cy, fontSize: size, lineHeight: 1, color, fontFamily: FONT, whiteSpace: 'nowrap',
      fontWeight: bold ? 'bold' : 'normal', transform: 'translate(-50%, -50%) rotate(-90deg)' }}>
      {text}
    </div>
  );
}

const CD10 = '#1f66dd';
const CD20 = '#ff22ff';
const CYAN = '#3ddede';

function BlueBox({ x, w }: { x: number; w: number }) {
  return (
    <div style={{ position: 'absolute', left: x, top: 862, width: w, height: 110, background: '#5f9bd0' }}>
      <div style={{ height: 13, background: '#4a66ac' }} />
    </div>
  );
}

export default function App() {
  return (
    <div style={{ position: 'absolute', left: 0, top: 0, width: 1853, height: 972, overflow: 'hidden', background: '#fff' }}>
      <BlueBox x={0} w={154} />
      <BlueBox x={1697} w={156} />

      {/* row 1 */}
      <ScatterPanel frame={[44, 14, 357, 312]} xDomain={[1.3, 5.21]} yDomain={[0.917, 5.06]}
        xTicks={scatter4TicksX} yTicks={scatter4TicksY} red={scatter4Red} green={scatter4Green} />
      <HistPanel frame={[424, 32, 884, 305]} xDomain={[1.79, 5.36]} xTicks={hist4Ticks} xLabels={LABELS5}
        yMax={1} yMinor={0.1} yLabels={[0]} gray={toSeries(hist4GrayPolys, hist4GraySpikes)}
        red={toSeries(hist4RedPolys, hist4RedSpikes)} grayFill="none" />
      <ScatterPanel frame={[979, 13, 1269, 307]} xDomain={[1.35, 5.12]} yDomain={[0.94, 5.03]}
        xTicks={scatter11TicksX} yTicks={scatter11TicksY} red={scatter11Red} green={scatter11Green} />
      <HistPanel frame={[1360, 29, 1830, 307]} xDomain={[1.727, 5.398]} xTicks={hist11Ticks} xLabels={LABELS5}
        yMax={2} yMinor={0.1} yLabels={[0, 1]} gray={toSeries(hist11GrayPolys, hist11GraySpikes)}
        red={toSeries(hist11RedPolys, hist11RedSpikes)} />

      {/* row 2 */}
      <ScatterPanel frame={[52, 358, 370, 666]} xDomain={[1.225, 5.2]} yDomain={[0.919, 5.08]}
        xTicks={scatter33TicksX} yTicks={scatter33TicksY} red={scatter33Red} green={scatter33Green} />
      <HistPanel frame={[432, 389, 924, 662]} xDomain={[1.64, 5.36]} xTicks={hist33Ticks} xLabels={LABELS5}
        yMax={9} yMinor={0.1} yLabels={[0, 1, 2, 3, 4, 5, 6, 7, 8]} gray={toSeries(hist33GrayPolys, hist33GraySpikes)}
        red={toSeries(hist33RedPolys, hist33RedSpikes)} />
      <ScatterPanel frame={[986, 360, 1291, 659]} xDomain={[1.215, 5.076]} yDomain={[0.917, 5.07]}
        xTicks={scatter60TicksX} yTicks={scatter60TicksY} red={scatter60Red} green={scatter60Green} />
      <HistPanel frame={[1367, 372, 1852, 650]} xDomain={[1.608, 5.266]} xTicks={hist60Ticks} xLabels={LABELS5}
        yMax={10} yMinor={0.1} yLabels={[0, 1, 2, 3, 4, 5, 6, 7, 8, 9]} gray={toSeries(hist60GrayPolys, hist60GraySpikes)}
        red={toSeries(hist60RedPolys, hist60RedSpikes)} />

      {/* row 3 */}
      <HistPanel frame={[180, 704, 614, 945]} xDomain={[1.55, 5.35]} xTicks={hist139Ticks} xLabels={LABELS6}
        yMax={14.95} yMinor={0.2} yLabels={[0, 1, 2, 3, 4, 5, 6, 7, 8, 9, 10, 11, 12, 13, 14]}
        gray={toSeries(hist139GrayPolys, hist139GraySpikes)} red={toSeries(hist139RedPolys, hist139RedSpikes)} />
      <HistPanel frame={[724, 714, 1158, 946]} xDomain={[1.496, 5.388]} xTicks={hist380Ticks} xLabels={LABELS6}
        yMax={49.2} yMinor={1} yLabels={[0, 10, 20, 30, 40]}
        gray={toSeries(hist380GrayPolys, hist380GraySpikes)} red={toSeries(hist380RedPolys, hist380RedSpikes)} />
      <HistPanel frame={[1266, 698, 1694, 945]} xDomain={[1.431, 5.372]} xTicks={hist3798Ticks} xLabels={LABELS6}
        yMax={386} yMinor={10} yLabels={[0, 100, 200, 300]}
        gray={toSeries(hist3798GrayPolys, hist3798GraySpikes)} red={toSeries(hist3798RedPolys, hist3798RedSpikes)} />

      {/* titles */}
      <Title x={251.7} y={6.7} text="4 events" />
      <Title x={1158.6} y={14.7} text="11 events" />
      <Title x={203.7} y={357.7} text="33 events" />
      <Title x={1139.7} y={362.7} text="60 events" />
      <Title x={294.6} y={712.7} text="139 events" />
      <Title x={860.7} y={711.7} text="380 events" />
      <Title x={1363.2} y={711.7} text="3798 events" />

      {/* scatter axis names */}
      <VText cx={22} cy={289.5} size={19} color={CD10} text="CD10" />
      <Text x={44} y={321.9} size={19} color={CD20} text="CD20" />
      <VText cx={955.5} cy={283} size={19} color={CD10} text="CD10" />
      <Text x={978} y={319} size={19} color={CD20} text="CD20" />
      <VText cx={26} cy={639} size={19} color={CD10} text="CD10" />
      <Text x={52} y={679} size={19} color={CD20} text="CD20" />
      <VText cx={962} cy={634} size={19} color={CD10} text="CD10" />
      <Text x={986} y={672} size={19} color={CD20} text="CD20" />

      {/* histogram axis names */}
      <VText cx={406} cy={284} size={10.5} color="#000" text="Density" bold />
      <VText cx={1340} cy={286.5} size={10.5} color="#000" text="Density" bold />
      <VText cx={412} cy={641.5} size={10.5} color="#000" text="Density" bold />
      <VText cx={1345.5} cy={630} size={10.5} color="#000" text="Density" bold />
      <VText cx={162} cy={927} size={9.5} color="#000" text="Density" bold />
      <VText cx={705} cy={929} size={9} color="#000" text="Density" bold />
      <VText cx={1248} cy={926} size={10} color="#000" text="Density" bold />

      <Text x={425} y={319.3} size={9.6} color={CYAN} text="PerCP-A LOGICAL" />
      <Text x={1361} y={322.3} size={9.6} color={CYAN} text="PerCP-A LOGICAL" />
      <Text x={433} y={676.3} size={10} color={CYAN} text="PerCP-A LOGICAL" />
      <Text x={1368} y={665.3} size={10} color={CYAN} text="PerCP-A LOGICAL" />
      <Text x={182} y={957.6} size={9} color={CYAN} text="PerCP-A LOGICAL" />
      <Text x={724} y={958.6} size={9} color={CYAN} text="PerCP-A LOGICAL" />
      <Text x={1266} y={957.6} size={9} color={CYAN} text="PerCP-A LOGICAL" />
    </div>
  );
}
